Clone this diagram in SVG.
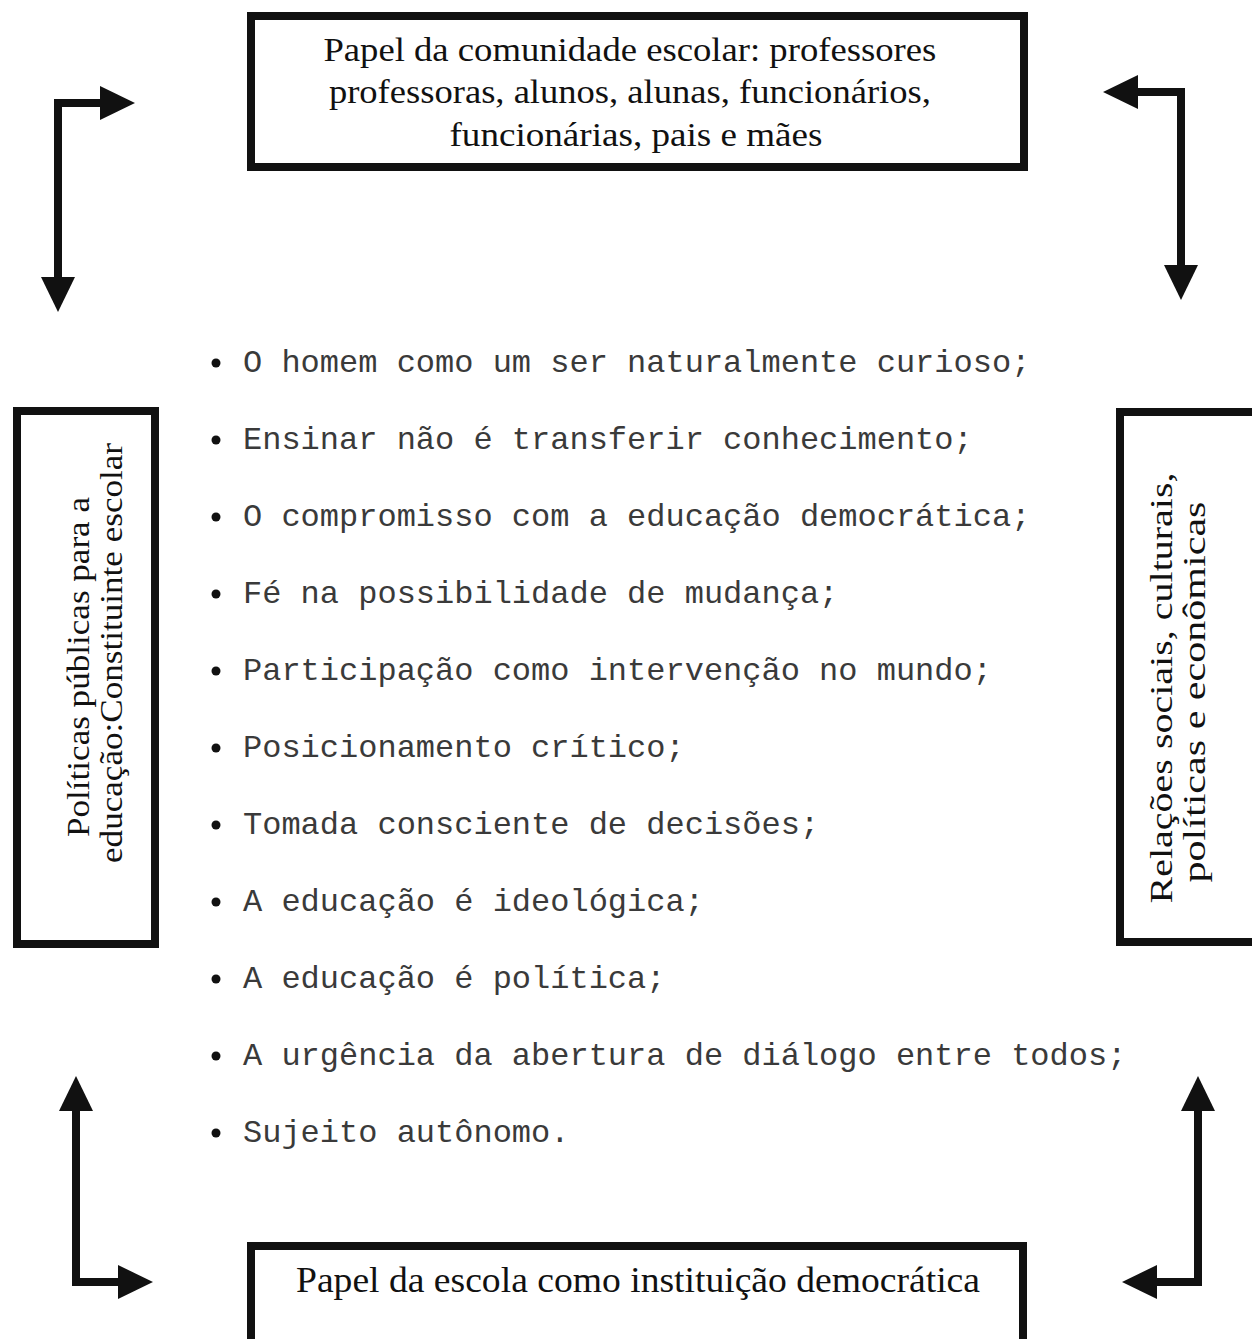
<svg xmlns="http://www.w3.org/2000/svg" width="1252" height="1339" viewBox="0 0 1252 1339">
  <style>
    .box { fill: none; stroke: #111; stroke-width: 8; }
    .serif { font-family: "Liberation Serif", "Times New Roman", serif; fill: #111; }
    .mono { font-family: "Liberation Mono", "Courier New", monospace; font-size: 32px; fill: #3a3a3a; }
    .conn { fill: none; stroke: #111; stroke-width: 8; stroke-linejoin: miter; marker-start: url(#head); marker-end: url(#head); }
    .bullet { fill: #111; }
  </style>
  <defs>
    <marker id="head" markerUnits="userSpaceOnUse" markerWidth="36" markerHeight="36" refX="0" refY="17" orient="auto-start-reverse" viewBox="0 0 36 34">
      <path d="M0,0 L35,17 L0,34 z" fill="#111"/>
    </marker>
  </defs>
  <rect width="1252" height="1339" fill="#ffffff"/>

  <g id="connectors">
    <path class="conn" d="M100,103 H58 V277"/>
    <path class="conn" d="M1138,92 H1181 V265"/>
    <path class="conn" d="M76,1111 V1282 H118"/>
    <path class="conn" d="M1198,1111 V1282 H1157"/>
  </g>

  <g id="node-comunidade">
    <rect class="box" x="251" y="16" width="773" height="151"/>
    <text class="serif" font-size="33" text-anchor="middle">
      <tspan x="634" y="61" textLength="613" lengthAdjust="spacingAndGlyphs">Papel da comunidade escolar: professores</tspan>
      <tspan x="634" y="103" textLength="602" lengthAdjust="spacingAndGlyphs">professoras, alunos, alunas, funcionários,</tspan>
      <tspan x="636" y="146" textLength="373" lengthAdjust="spacingAndGlyphs">funcionárias, pais e mães</tspan>
    </text>
  </g>

  <g id="node-politicas">
    <rect class="box" x="17" y="411" width="138" height="533"/>
    <text class="serif" font-size="32" text-anchor="middle" transform="translate(89,667) rotate(-90)" textLength="340" lengthAdjust="spacingAndGlyphs">Políticas públicas para a</text>
    <text class="serif" font-size="32" text-anchor="middle" transform="translate(122,653) rotate(-90)" textLength="420" lengthAdjust="spacingAndGlyphs">educação:Constituinte escolar</text>
  </g>

  <g id="node-relacoes">
    <rect class="box" x="1120" y="412" width="200" height="530"/>
    <text class="serif" font-size="32" text-anchor="middle" transform="translate(1172,688) rotate(-90)" textLength="431" lengthAdjust="spacingAndGlyphs">Relações sociais, culturais,</text>
    <text class="serif" font-size="32" text-anchor="middle" transform="translate(1205,692) rotate(-90)" textLength="381" lengthAdjust="spacingAndGlyphs">políticas e econômicas</text>
  </g>

  <g id="node-escola">
    <rect class="box" x="251" y="1246" width="772" height="100"/>
    <text class="serif" font-size="36" text-anchor="middle" x="638" y="1292" textLength="684" lengthAdjust="spacingAndGlyphs">Papel da escola como instituição democrática</text>
  </g>

  <g id="node-principios">
    <circle class="bullet" cx="216" cy="363" r="4.5"/>
    <text class="mono" x="243" y="372">O homem como um ser naturalmente curioso;</text>
    <circle class="bullet" cx="216" cy="440" r="4.5"/>
    <text class="mono" x="243" y="449">Ensinar não é transferir conhecimento;</text>
    <circle class="bullet" cx="216" cy="517" r="4.5"/>
    <text class="mono" x="243" y="526">O compromisso com a educação democrática;</text>
    <circle class="bullet" cx="216" cy="594" r="4.5"/>
    <text class="mono" x="243" y="603">Fé na possibilidade de mudança;</text>
    <circle class="bullet" cx="216" cy="671" r="4.5"/>
    <text class="mono" x="243" y="680">Participação como intervenção no mundo;</text>
    <circle class="bullet" cx="216" cy="748" r="4.5"/>
    <text class="mono" x="243" y="757">Posicionamento crítico;</text>
    <circle class="bullet" cx="216" cy="825" r="4.5"/>
    <text class="mono" x="243" y="834">Tomada consciente de decisões;</text>
    <circle class="bullet" cx="216" cy="902" r="4.5"/>
    <text class="mono" x="243" y="911">A educação é ideológica;</text>
    <circle class="bullet" cx="216" cy="979" r="4.5"/>
    <text class="mono" x="243" y="988">A educação é política;</text>
    <circle class="bullet" cx="216" cy="1056" r="4.5"/>
    <text class="mono" x="243" y="1065">A urgência da abertura de diálogo entre todos;</text>
    <circle class="bullet" cx="216" cy="1133" r="4.5"/>
    <text class="mono" x="243" y="1142">Sujeito autônomo.</text>
  </g>
</svg>
